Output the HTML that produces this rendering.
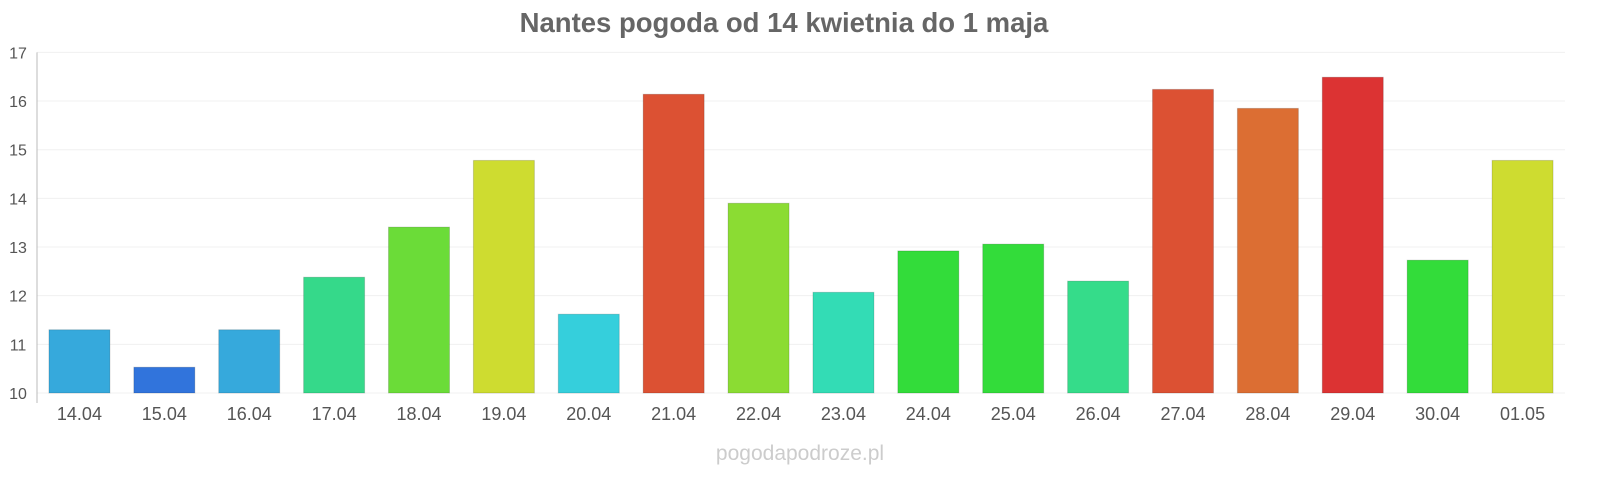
<!DOCTYPE html>
<html><head><meta charset="utf-8"><style>
body{margin:0;background:#fff;}
svg{display:block;font-family:"Liberation Sans",Arial,sans-serif;}
</style></head><body>
<svg id="chart" width="1600" height="480">
<text x="784" y="32" text-anchor="middle" font-size="27.5" font-weight="bold" fill="#666">Nantes pogoda od 14 kwietnia do 1 maja</text>
<text x="800" y="460" text-anchor="middle" font-size="21" fill="#ccc">pogodapodroze.pl</text>
<g id="grid"></g><g id="bars"></g><g id="labels"></g>
</svg>
<script>
const categories=["14.04","15.04","16.04","17.04","18.04","19.04","20.04","21.04","22.04","23.04","24.04","25.04","26.04","27.04","28.04","29.04","30.04","01.05"];
const values=[11.3,10.53,11.3,12.38,13.41,14.78,11.62,16.14,13.9,12.07,12.92,13.06,12.3,16.24,15.85,16.49,12.73,14.78];
const colors=["#36a9dc","#3174dc","#36a9dc","#35d98a","#6bdc38","#cedc30","#35cfdc","#dc5133","#8bdc33","#33dcb5","#33dc3a","#33dc3a","#35dc8a","#dc5133","#dc6e33","#dc3333","#33dc3a","#cedc30"];
const yTicks=[10,11,12,13,14,15,16,17];
const NS="http://www.w3.org/2000/svg";
const x0=37,x1=1565,yMin=10,yMax=17,py0=393,py1=52.4;
const y=v=>py0-(v-yMin)/(yMax-yMin)*(py0-py1);
const band=(x1-x0)/categories.length;
const xc=i=>x0+band*(i+0.5);
function mk(t,a,p){const e=document.createElementNS(NS,t);for(const k in a)e.setAttribute(k,a[k]);p.appendChild(e);return e;}
const grid=document.getElementById('grid'),bars=document.getElementById('bars'),labels=document.getElementById('labels');
yTicks.forEach(t=>{
 const l=mk('line',{x1:x0,x2:x1,y1:y(t),y2:y(t),stroke:'#f0f0f0'},grid);
 
 
 const tx=mk('text',{x:18,y:y(t)+6,'text-anchor':'middle','font-size':16,fill:'#555'},labels);
 tx.textContent=t;
 
 
});
const ax=mk('line',{x1:x0,x2:x0,y1:py1,y2:403,stroke:'#bbb'},grid);


categories.forEach((c,i)=>{
 const bw=61;
 const r=mk('rect',{x:xc(i)-bw/2,y:y(values[i]),width:bw,height:py0-y(values[i]),fill:colors[i],stroke:'rgba(0,0,0,0.15)','stroke-width':1},bars);
 
 
 const tx=mk('text',{x:xc(i),y:420,'text-anchor':'middle','font-size':18,fill:'#555'},labels);
 tx.textContent=c;
 
 
});
</script>
</body></html>
